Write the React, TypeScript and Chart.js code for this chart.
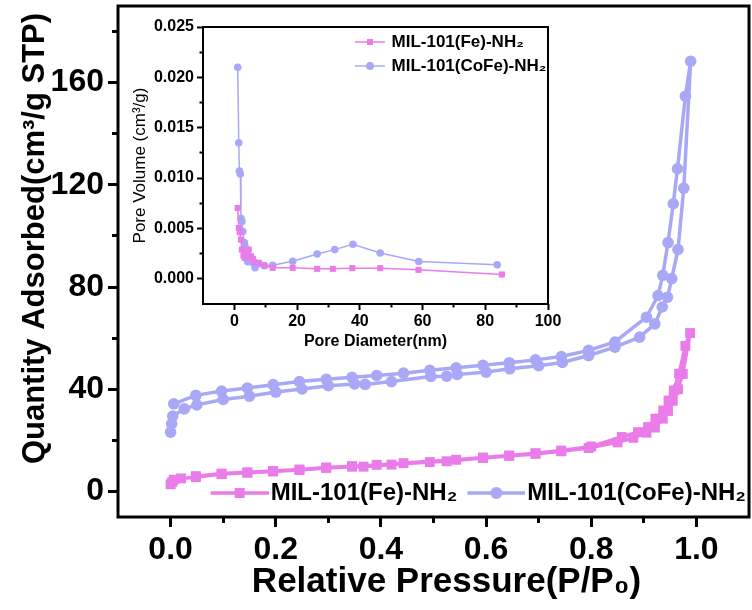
import React, { useEffect, useRef } from 'react';
import { Chart, registerables } from 'chart.js';

Chart.register(...registerables);

const FONT = "'Liberation Sans', Arial, Helvetica, sans-serif";
Chart.defaults.font.family = FONT;
Chart.defaults.color = '#000';

const PINK = '#E97CE9';
const LAV = '#A8A8F6';

const SERIES_LABELS = ['MIL-101(Fe)-NH₂', 'MIL-101(CoFe)-NH₂'];

// ---- Main isotherm: MIL-101(Fe)-NH2 ----
const FE_ADS_P = [0.0, 0.003, 0.006, 0.02, 0.048, 0.097, 0.146, 0.195, 0.245, 0.296, 0.345, 0.367, 0.42, 0.493, 0.525, 0.594, 0.644, 0.694, 0.743, 0.795, 0.85, 0.88, 0.905, 0.921, 0.936, 0.946, 0.955, 0.965, 0.974, 0.988];
const FE_ADS_Q = [2.8, 3.7, 4.6, 5.1, 5.6, 6.8, 7.3, 7.8, 8.4, 9.2, 9.7, 9.7, 10.5, 11.5, 11.8, 13.1, 13.9, 14.7, 15.7, 17.0, 19.2, 21.0, 23.0, 25.0, 28.5, 31.5, 35.5, 40.0, 46.0, 62.0];
const FE_DES_P = [0.979, 0.967, 0.957, 0.947, 0.937, 0.922, 0.908, 0.889, 0.858, 0.8, 0.743, 0.694, 0.644, 0.594, 0.543, 0.443, 0.392, 0.345, 0.296, 0.245, 0.195, 0.146, 0.097, 0.048];
const FE_DES_Q = [57.0, 46.1, 39.5, 35.6, 31.7, 28.5, 25.2, 23.2, 21.3, 17.6, 16.0, 15.0, 14.1, 13.3, 12.4, 11.1, 10.4, 9.9, 9.4, 8.6, 8.0, 7.5, 7.0, 6.0];

// ---- Main isotherm: MIL-101(CoFe)-NH2 ----
const COFE_ADS_P = [0.0, 0.002, 0.004, 0.026, 0.05, 0.1, 0.15, 0.2, 0.25, 0.3, 0.35, 0.37, 0.42, 0.495, 0.525, 0.545, 0.6, 0.645, 0.7, 0.745, 0.795, 0.845, 0.892, 0.921, 0.935, 0.945, 0.953, 0.965, 0.976, 0.989];
const COFE_ADS_Q = [23.2, 26.5, 29.5, 32.3, 33.9, 36.0, 37.3, 38.9, 40.1, 41.4, 42.1, 41.9, 43.0, 45.0, 45.1, 45.8, 46.7, 48.0, 49.2, 50.5, 53.2, 56.5, 60.4, 65.6, 72.2, 76.0, 83.3, 94.7, 118.7, 168.4];
const COFE_DES_P = [0.979, 0.964, 0.956, 0.946, 0.936, 0.927, 0.905, 0.845, 0.795, 0.743, 0.694, 0.644, 0.594, 0.543, 0.493, 0.443, 0.392, 0.345, 0.296, 0.245, 0.195, 0.146, 0.097, 0.048, 0.006];
const COFE_DES_Q = [154.7, 126.3, 112.6, 97.4, 84.6, 76.7, 68.2, 58.5, 55.2, 52.8, 51.5, 50.4, 49.4, 48.4, 47.4, 46.3, 45.4, 44.7, 43.9, 43.0, 41.8, 40.5, 39.3, 37.6, 34.3];

const MAIN_X_TICKS = [0, 0.2, 0.4, 0.6, 0.8, 1.0];
const MAIN_X_MINOR = [0.1, 0.3, 0.5, 0.7, 0.9];
const MAIN_Y_TICKS = [0, 40, 80, 120, 160];
const MAIN_Y_MINOR = [20, 60, 100, 140, 180];

// ---- Inset: pore size distribution ----
const PSD_FE_D = [1.06, 1.4, 1.7, 2.1, 2.4, 2.9, 3.3, 4.0, 4.6, 5.3, 5.9, 6.4, 7.8, 9.6, 12.2, 18.6, 26.4, 31.4, 37.6, 46.5, 58.7, 85.3];
const PSD_FE_V = [0.00703, 0.00505, 0.00462, 0.00389, 0.0029, 0.00231, 0.00208, 0.00257, 0.0029, 0.00224, 0.00198, 0.00165, 0.00158, 0.00132, 0.00109, 0.00109, 0.00099, 0.00099, 0.00106, 0.00106, 0.00089, 0.00043];
const PSD_COFE_D = [1.06, 1.4, 1.6, 1.9, 2.1, 2.4, 2.7, 3.2, 3.4, 3.7, 4.3, 5.0, 5.9, 6.6, 7.8, 9.6, 12.2, 18.6, 26.4, 32.0, 37.8, 46.5, 58.8, 83.8];
const PSD_COFE_V = [0.021, 0.0135, 0.0107, 0.0104, 0.006, 0.0057, 0.0047, 0.0036, 0.0032, 0.0026, 0.0017, 0.0019, 0.0016, 0.0011, 0.0015, 0.0013, 0.00135, 0.00175, 0.00247, 0.0029, 0.00343, 0.00257, 0.00172, 0.00139];

const INSET_X_TICKS = [0, 20, 40, 60, 80, 100];
const INSET_X_MINOR = [10, 30, 50, 70, 90];
const INSET_Y_TICKS = [0, 0.005, 0.01, 0.015, 0.02, 0.025];
const INSET_Y_MINOR = [0.0025, 0.0075, 0.0125, 0.0175, 0.0225];

const zip = (xs: number[], ys: number[]) => xs.map((x, i) => ({ x, y: ys[i] }));

function makeAxis(c: any) {
  return {
    type: 'linear',
    position: c.position,
    min: c.min,
    max: c.max,
    weight: c.weight,
    afterBuildTicks: (s: any) => {
      s.ticks = c.values.map((v: number) => ({ value: v }));
    },
    afterFit: (s: any) => {
      const sz = typeof c.size === 'function' ? c.size(s) : c.size;
      if (c.position === 'left' || c.position === 'right') s.width = sz;
      else s.height = sz;
      s.paddingTop = 0;
      s.paddingBottom = 0;
      s.paddingLeft = 0;
      s.paddingRight = 0;
    },
    border: { display: false },
    grid: {
      display: true,
      drawOnChartArea: false,
      drawTicks: true,
      tickLength: c.tickLength,
      tickWidth: c.tickWidth,
      tickColor: '#000',
    },
    ticks: {
      display: !!c.font,
      font: c.font,
      color: '#000',
      padding: c.pad ?? 3,
      callback: c.fmt,
      autoSkip: false,
      maxRotation: 0,
      minRotation: 0,
    },
    title: c.title
      ? { display: true, text: c.title, font: c.titleFont, color: '#000', padding: c.titlePad }
      : { display: false },
  };
}

function legendIcon(color: string, shape: string, lineLen: number, boxW: number, markerSize: number, lineW: number) {
  const half = Math.max(boxW / 2, lineLen - boxW / 2);
  const W = Math.ceil(2 * half);
  const H = Math.ceil(markerSize + 6);
  const cv = document.createElement('canvas');
  cv.width = W;
  cv.height = H;
  const ctx = cv.getContext('2d')!;
  const x0 = W / 2 - boxW / 2;
  const x1 = x0 + lineLen;
  const cy = H / 2;
  ctx.strokeStyle = color;
  ctx.fillStyle = color;
  ctx.lineWidth = lineW;
  ctx.beginPath();
  ctx.moveTo(x0, cy);
  ctx.lineTo(x1, cy);
  ctx.stroke();
  const cx = (x0 + x1) / 2;
  if (shape === 'rect') {
    ctx.fillRect(cx - markerSize / 2, cy - markerSize / 2, markerSize, markerSize);
  } else {
    ctx.beginPath();
    ctx.arc(cx, cy, markerSize / 2, 0, Math.PI * 2);
    ctx.fill();
  }
  return cv;
}

const framePlugin = (lw: number) => ({
  id: 'frame',
  afterDatasetsDraw(chart: any) {
    const { ctx, chartArea: a } = chart;
    ctx.save();
    ctx.strokeStyle = '#000';
    ctx.lineWidth = lw;
    ctx.strokeRect(a.left, a.top, a.right - a.left, a.bottom - a.top);
    ctx.restore();
  },
});

const MAIN_W = 752;
const MAIN_H = 610;
const INSET_LEFT = 120;
const INSET_TOP = 10;
const INSET_W = 448;
const INSET_H = 345;

export default function App() {
  const mainRef = useRef<HTMLCanvasElement>(null);
  const insetRef = useRef<HTMLCanvasElement>(null);

  useEffect(() => {
    const mainIcons = [
      legendIcon(PINK, 'rect', 58, 48, 10, 3.5),
      legendIcon(LAV, 'circle', 58, 48, 12, 3.5),
    ];
    const insetIcons = [
      legendIcon(PINK, 'rect', 30, 28, 6, 1.5),
      legendIcon(LAV, 'circle', 30, 28, 8, 1.5),
    ];
    const defaultGen = (Chart as any).defaults.plugins.legend.labels.generateLabels;

    const mainLayout = {
      id: 'mainLayout',
      afterLayout(chart: any) {
        const xs = chart.scales.x;
        xs.bottom = chart.height;
        xs.height = xs.bottom - xs.top;
        // nudge axis titles (title positions only; tick positions were already configured)
        xs.left += 26;
        const ys = chart.scales.y;
        ys.top -= 46;
        const lg = chart.legend;
        const ca = chart.chartArea;
        const h = lg.height;
        lg.top = 493 - (10 + 12);
        lg.bottom = lg.top + h;
        lg.left = ca.left;
        lg.right = 756;
      },
    };

    const main = new Chart(mainRef.current!, {
      type: 'scatter',
      data: {
        datasets: [
          {
            label: SERIES_LABELS[0],
            data: [...zip(FE_ADS_P, FE_ADS_Q), ...zip(FE_DES_P, FE_DES_Q)],
            showLine: true,
            borderColor: PINK,
            backgroundColor: PINK,
            borderWidth: 3.5,
            pointStyle: 'rect',
            pointRadius: 7,
            pointBorderWidth: 0,
            pointBackgroundColor: PINK,
          },
          {
            label: SERIES_LABELS[1],
            data: [...zip(COFE_ADS_P, COFE_ADS_Q), ...zip(COFE_DES_P, COFE_DES_Q)],
            showLine: true,
            borderColor: LAV,
            backgroundColor: LAV,
            borderWidth: 3.5,
            pointStyle: 'circle',
            pointRadius: 5.8,
            pointBorderWidth: 0,
            pointBackgroundColor: LAV,
          },
        ],
      },
      options: {
        responsive: false,
        animation: false,
        devicePixelRatio: 1,
        layout: { autoPadding: false, padding: { left: 0, top: 6, right: 3, bottom: 0 } },
        scales: {
          x: makeAxis({
            position: 'bottom', min: -0.1, max: 1.1, weight: 1, values: MAIN_X_TICKS,
            size: (s: any) => 93 - (s.chart.legend ? s.chart.legend.height : 0),
            tickLength: 10, tickWidth: 3,
            font: { size: 32, weight: 'bold', family: FONT }, pad: 4,
            fmt: (v: number) => v.toFixed(1),
            title: 'Relative Pressure(P/P₀)', titleFont: { size: 35, weight: 'bold', family: FONT },
            titlePad: { top: 0, bottom: 7 },
          }),
          xMinor: makeAxis({
            position: 'bottom', min: -0.1, max: 1.1, weight: 0, values: MAIN_X_MINOR,
            size: 0, tickLength: 6, tickWidth: 3,
          }),
          y: makeAxis({
            position: 'left', min: -10, max: 190, weight: 1, values: MAIN_Y_TICKS,
            size: 118, tickLength: 10, tickWidth: 3,
            font: { size: 32, weight: 'bold', family: FONT }, pad: 4,
            fmt: (v: number) => String(v),
            title: 'Quantity Adsorbed(cm³/g STP)', titleFont: { size: 31, weight: 'bold', family: FONT },
            titlePad: { top: 17, bottom: 0 },
          }),
          yMinor: makeAxis({
            position: 'left', min: -10, max: 190, weight: 0, values: MAIN_Y_MINOR,
            size: 0, tickLength: 6, tickWidth: 3,
          }),
        },
        plugins: {
          tooltip: { enabled: false },
          legend: {
            display: true,
            position: 'bottom',
            align: 'end',
            labels: {
              usePointStyle: true,
              pointStyleWidth: 48,
              padding: 10,
              color: '#000',
              font: { size: 24, weight: 'bold', family: FONT },
              generateLabels: (chart: any) =>
                defaultGen(chart).map((it: any, i: number) => ({ ...it, pointStyle: mainIcons[i] })),
            },
          },
        },
      } as any,
      plugins: [mainLayout, framePlugin(3)],
    });

    const insetLayout = {
      id: 'insetLayout',
      afterLayout(chart: any) {
        const lg = chart.legend;
        const h = lg.height;
        lg.top = 32 - (7 + 8.5);
        lg.bottom = lg.top + h;
        lg.left = 355 - INSET_LEFT - 7;
        lg.right = chart.chartArea.right;
      },
    };

    const inset = new Chart(insetRef.current!, {
      type: 'scatter',
      data: {
        datasets: [
          {
            label: SERIES_LABELS[0],
            data: zip(PSD_FE_D, PSD_FE_V),
            showLine: true,
            borderColor: PINK,
            backgroundColor: PINK,
            borderWidth: 1.5,
            pointStyle: 'rect',
            pointRadius: 4.3,
            pointBorderWidth: 0,
            pointBackgroundColor: PINK,
          },
          {
            label: SERIES_LABELS[1],
            data: zip(PSD_COFE_D, PSD_COFE_V),
            showLine: true,
            borderColor: LAV,
            backgroundColor: LAV,
            borderWidth: 1.5,
            pointStyle: 'circle',
            pointRadius: 3.8,
            pointBorderWidth: 0,
            pointBackgroundColor: LAV,
          },
        ],
      },
      options: {
        responsive: false,
        animation: false,
        devicePixelRatio: 1,
        layout: { autoPadding: false, padding: { left: 0, top: 17, right: INSET_W - 428, bottom: 0 } },
        scales: {
          x: makeAxis({
            position: 'bottom', min: -10, max: 100, weight: 1, values: INSET_X_TICKS,
            size: INSET_H - 294, tickLength: 6, tickWidth: 2,
            font: { size: 16, weight: 'bold', family: FONT }, pad: 2,
            fmt: (v: number) => String(v),
            title: 'Pore Diameter(nm)', titleFont: { size: 16, weight: 'bold', family: FONT },
            titlePad: { top: 0, bottom: 4 },
          }),
          xMinor: makeAxis({
            position: 'bottom', min: -10, max: 100, weight: 0, values: INSET_X_MINOR,
            size: 0, tickLength: 3.5, tickWidth: 2,
          }),
          y: makeAxis({
            position: 'left', min: -0.0025, max: 0.025, weight: 1, values: INSET_Y_TICKS,
            size: 83, tickLength: 6, tickWidth: 2,
            font: { size: 16, weight: 'bold', family: FONT }, pad: 3,
            fmt: (v: number) => v.toFixed(3),
            title: 'Pore Volume (cm³/g)', titleFont: { size: 17, weight: 'normal', family: FONT },
            titlePad: { top: 10, bottom: 0 },
          }),
          yMinor: makeAxis({
            position: 'left', min: -0.0025, max: 0.025, weight: 0, values: INSET_Y_MINOR,
            size: 0, tickLength: 3.5, tickWidth: 2,
          }),
        },
        plugins: {
          tooltip: { enabled: false },
          legend: {
            display: true,
            position: 'chartArea',
            align: 'start',
            labels: {
              usePointStyle: true,
              pointStyleWidth: 28,
              padding: 7,
              color: '#000',
              font: { size: 17, weight: 'bold', family: FONT },
              generateLabels: (chart: any) =>
                defaultGen(chart).map((it: any, i: number) => ({ ...it, pointStyle: insetIcons[i] })),
            },
          },
        },
      } as any,
      plugins: [insetLayout, framePlugin(2)],
    });

    return () => {
      main.destroy();
      inset.destroy();
    };
  }, []);

  return (
    <div style={{ position: 'fixed', left: 0, top: 0, width: MAIN_W, height: MAIN_H, background: '#fff' }}>
      <canvas ref={mainRef} width={MAIN_W} height={MAIN_H} style={{ position: 'absolute', left: 0, top: 0 }} />
      <canvas
        ref={insetRef}
        width={INSET_W}
        height={INSET_H}
        style={{ position: 'absolute', left: INSET_LEFT, top: INSET_TOP }}
      />
    </div>
  );
}
